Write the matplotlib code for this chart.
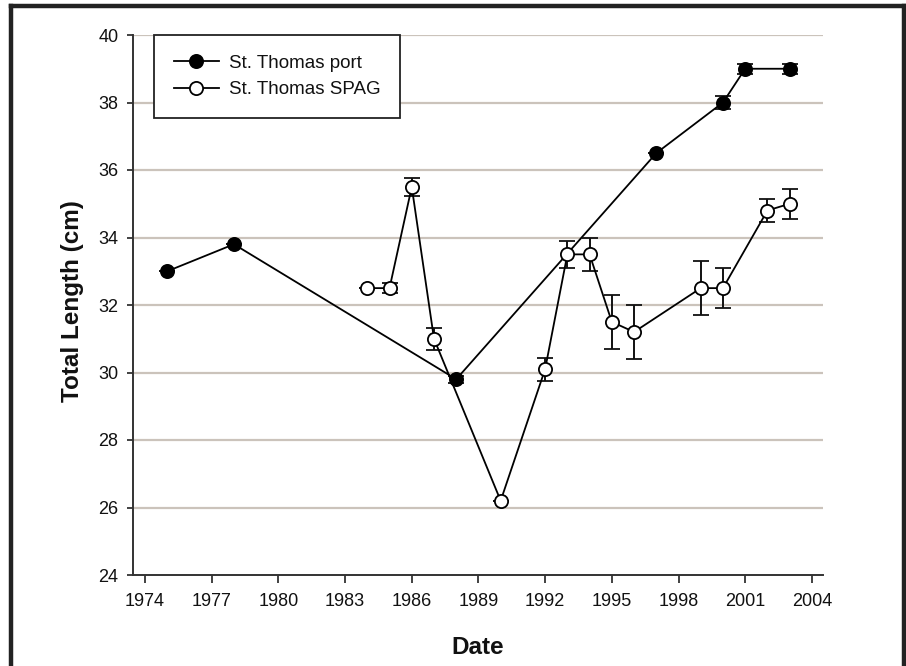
import matplotlib
matplotlib.use("Agg")
import matplotlib.pyplot as plt
from matplotlib.lines import Line2D

plt.rcParams['font.family'] = ['Liberation Sans', 'DejaVu Sans']

# St. Thomas port samples
port_year = [1975, 1978, 1988, 1997, 2000, 2001, 2003]
port_len = [33.0, 33.8, 29.8, 36.5, 38.0, 39.0, 39.0]
port_err = [0.0, 0.0, 0.1, 0.0, 0.18, 0.15, 0.15]

# St. Thomas SPAG samples
spag_year = [1984, 1985, 1986, 1987, 1990, 1992, 1993, 1994, 1995, 1996,
             1999, 2000, 2002, 2003]
spag_len = [32.5, 32.5, 35.5, 31.0, 26.2, 30.1, 33.5, 33.5, 31.5, 31.2,
            32.5, 32.5, 34.8, 35.0]
spag_err = [0.0, 0.15, 0.26, 0.32, 0.0, 0.34, 0.4, 0.5, 0.8, 0.8,
            0.8, 0.6, 0.33, 0.45]

series_names = ['St. Thomas port', 'St. Thomas SPAG']

x_ticks = [1974, 1977, 1980, 1983, 1986, 1989, 1992, 1995, 1998, 2001, 2004]
y_ticks = [24, 26, 28, 30, 32, 34, 36, 38, 40]

W, H = 906, 666
fig = plt.figure(figsize=(W / 100, H / 100), dpi=100)
fig.patch.set_facecolor('white')

# plot area in pixels: x 133..823, y 35..575
ax = fig.add_axes([133 / W, 1 - 575 / H, 690 / W, 540 / H])
ax.set_xlim(1973.46, 2004.5)
ax.set_ylim(24, 40)

for v in y_ticks[1:]:
    ax.axhline(v, color='#cbc3bb', lw=1.6, zorder=0)

line_kw = dict(color='black', lw=1.3, ecolor='#111111', elinewidth=1.4,
               capsize=5.5, capthick=1.4, markersize=9.5, markeredgewidth=1.3)

ax.errorbar(port_year, port_len, yerr=port_err, fmt='-o', mfc='black',
            mec='black', zorder=3, **line_kw)
ax.errorbar(spag_year, spag_len, yerr=spag_err, fmt='-o', mfc='white',
            mec='black', zorder=4, **line_kw)

ax.set_xticks(x_ticks)
ax.set_yticks(y_ticks)
ax.tick_params(axis='x', direction='out', length=6, width=1.3, pad=7,
               labelsize=13, colors='#333333', labelcolor='#111111')
ax.tick_params(axis='y', direction='out', length=4.5, width=1.3, pad=6,
               labelsize=13, colors='#333333', labelcolor='#111111')

for s in ('top', 'right'):
    ax.spines[s].set_visible(False)
for s in ('left', 'bottom'):
    ax.spines[s].set_color('#333333')
    ax.spines[s].set_linewidth(1.4)

ax.set_xlabel('Date', fontsize=17.5, fontweight='bold', color='#111111',
              va='center')
ax.xaxis.set_label_coords(0.5, -0.135)
ax.set_ylabel('Total Length (cm)', fontsize=17.5, fontweight='bold',
              color='#111111', va='center')
ax.yaxis.set_label_coords(-0.087, 0.507)

handles = [
    Line2D([], [], color='black', lw=1.3, marker='o', markersize=9.5,
           mfc='black', mec='black', mew=1.3),
    Line2D([], [], color='black', lw=1.3, marker='o', markersize=9.5,
           mfc='white', mec='black', mew=1.3),
]
leg = ax.legend(handles, series_names, loc='upper left',
                bbox_to_anchor=(21 / 690, 1.0), borderaxespad=0, fontsize=13.5,
                handlelength=2.4, handletextpad=0.55, borderpad=1.05,
                labelspacing=0.5, fancybox=False, framealpha=1,
                edgecolor='#222222')
leg.get_frame().set_linewidth(1.3)
for t in leg.get_texts():
    t.set_color('#111111')

# dark frame around the figure (open at the bottom)
frame_kw = dict(color='#222222', lw=3.2, transform=fig.transFigure,
                solid_capstyle='projecting')
fig.add_artist(Line2D([10.5 / W, 10.5 / W], [0, 1 - 5.5 / H], **frame_kw))
fig.add_artist(Line2D([10.5 / W, 903.5 / W], [1 - 5.5 / H, 1 - 5.5 / H], **frame_kw))
fig.add_artist(Line2D([903.5 / W, 903.5 / W], [0, 1 - 5.5 / H], **frame_kw))

fig.savefig('out.png', dpi=100, facecolor='white')
